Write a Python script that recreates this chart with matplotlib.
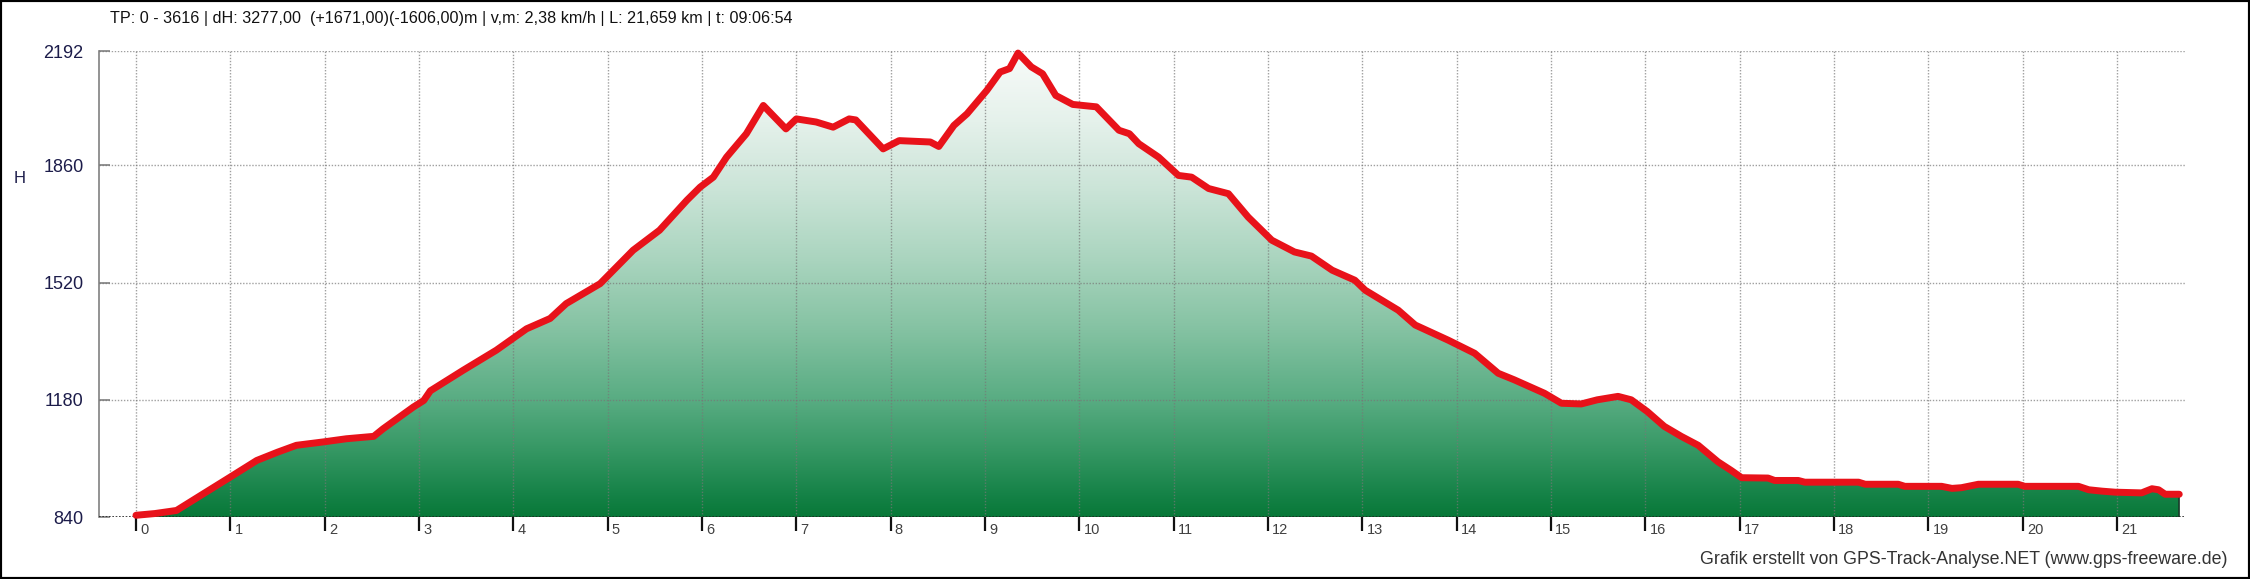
import numpy as np
import matplotlib
matplotlib.use("Agg")
import matplotlib.pyplot as plt
from matplotlib.colors import LinearSegmentedColormap
from matplotlib.patches import Rectangle

# elevation profile (km, m)
dist_km = [0.00, 0.20, 0.43, 0.70, 1.00, 1.28, 1.50, 1.70, 1.99, 2.23, 2.52, 2.62,
           2.94, 3.05, 3.12, 3.47, 3.82, 4.14, 4.39, 4.56, 4.92, 5.27, 5.55, 5.84,
           5.98, 6.12, 6.26, 6.47, 6.65, 6.89, 7.00, 7.21, 7.39, 7.56, 7.63, 7.92,
           8.09, 8.42, 8.51, 8.67, 8.81, 9.02, 9.16, 9.26, 9.35, 9.49, 9.61, 9.75,
           9.93, 10.18, 10.42, 10.53, 10.63, 10.84, 11.05, 11.19, 11.37, 11.58, 11.79,
           12.04, 12.28, 12.46, 12.68, 12.92, 13.03, 13.38, 13.56, 13.91, 14.19, 14.44,
           14.61, 14.93, 15.11, 15.32, 15.49, 15.71, 15.85, 16.02, 16.20, 16.38, 16.56,
           16.77, 16.91, 17.02, 17.30, 17.37, 17.62, 17.69, 18.26, 18.33, 18.68, 18.75,
           19.14, 19.25, 19.35, 19.53, 19.95, 20.02, 20.59, 20.70, 20.84, 20.98, 21.26,
           21.37, 21.44, 21.51, 21.659]
elev_m = [845, 850, 859, 905, 956, 1004, 1028, 1048, 1058, 1067, 1074, 1096,
          1159, 1178, 1206, 1266, 1324, 1386, 1416, 1459, 1517, 1614, 1672, 1759,
          1797, 1826, 1884, 1952, 2034, 1966, 1995, 1986, 1971, 1995, 1992, 1908,
          1932, 1928, 1915, 1976, 2010, 2078, 2131, 2141, 2186, 2146, 2126, 2063,
          2037, 2030, 1962, 1952, 1923, 1884, 1831, 1826, 1793, 1778, 1710,
          1643, 1609, 1597, 1556, 1527, 1498, 1440, 1397, 1353, 1315, 1257,
          1238, 1199, 1170, 1168, 1180, 1190, 1180, 1146, 1103, 1074, 1048,
          1000, 975, 954, 953, 946, 946, 941, 941, 935, 935, 929,
          929, 923, 925, 935, 935, 929, 929, 919, 915, 912, 910,
          922, 919, 906, 906]

y_ticks = [840, 1180, 1520, 1860, 2192]
x_ticks = list(range(0, 22))
y_label = "H"
title_text = ("TP: 0 - 3616 | dH: 3277,00  (+1671,00)(-1606,00)m | v,m: 2,38 km/h | "
              "L: 21,659 km | t: 09:06:54")
credit_text = "Grafik erstellt von GPS-Track-Analyse.NET (www.gps-freeware.de)"

W, H = 2250, 579
plt.rcParams['font.family'] = ['Liberation Sans', 'DejaVu Sans']

fig = plt.figure(figsize=(W / 100, H / 100), dpi=100, facecolor='white')
# axes placed in pixel terms: spine at x=99, top grid y=51, bottom y=517
ax = fig.add_axes([99 / W, 62 / H, 2086 / W, 466 / H])
x0, x1 = -0.392, 21.72
y0, y1 = 840, 2192
ax.set_xlim(x0, x1)
ax.set_ylim(y0, y1)

# gradient fill under the curve
green = LinearSegmentedColormap.from_list('elev', [
    (0.00, '#087838'), (0.05, '#168348'), (0.15, '#389966'), (0.25, '#58ac82'),
    (0.40, '#84c2a2'), (0.55, '#a9d4be'), (0.70, '#cae4d7'), (0.85, '#e5f1eb'),
    (1.00, '#f8fbf9')])
grad = np.linspace(0, 1, 256).reshape(-1, 1)
img = ax.imshow(grad, cmap=green, origin='lower', aspect='auto',
                extent=(x0, x1, y0, y1), zorder=1)
poly = ax.fill_between(dist_km, elev_m, y0, color='none', lw=0)
img.set_clip_path(poly.get_paths()[0], transform=ax.transData)
ax.plot([dist_km[-1], dist_km[-1]], [y0, elev_m[-1]], color='#1a3a2a', lw=1.2, zorder=2)

# dotted grid on top of the fill
for k in x_ticks:
    ax.axvline(k, color='#777777', lw=1.0, ls=(0, (1, 1.2)), alpha=0.7, zorder=3)
for v in y_ticks[1:]:
    ax.axhline(v, color='#777777', lw=1.0, ls=(0, (1, 1.2)), alpha=0.7, zorder=3)
ax.axhline(y0, color='#222222', lw=1.2, ls=(0, (1, 1)), zorder=3)

ax.plot(dist_km, elev_m, color='#e8121a', lw=5.0, solid_joinstyle='round',
        solid_capstyle='round', zorder=5, clip_on=False)

for s in ['top', 'right', 'bottom']:
    ax.spines[s].set_visible(False)
ax.spines['left'].set_color('#808080')
ax.spines['left'].set_linewidth(1.2)

ax.set_yticks(y_ticks)
ax.set_yticklabels([str(v) for v in y_ticks])
ax.tick_params(axis='y', direction='in', length=8, width=1.2, color='#808080',
               pad=11, labelsize=13, labelcolor='#1c1c4a')
ax.set_xticks(x_ticks)
ax.set_xticklabels([])
ax.tick_params(axis='x', direction='out', length=10, width=1.6, color='#111111')
for k in x_ticks:
    ax.annotate(str(k), xy=(k, y0), xytext=(3, -4), textcoords='offset points',
                ha='left', va='top', fontsize=10.5, color='#404040',
                annotation_clip=False)

fig.text(14 / W, 1 - 178 / H, y_label, fontsize=12, color='#1c1c4a',
         ha='left', va='center')
fig.text(110 / W, 1 - 19 / H, title_text, fontsize=11.6, color='#111111',
         ha='left', va='center')
fig.text(2227 / W, 1 - 560 / H, credit_text, fontsize=12.8, color='#333333',
         ha='right', va='center')

fig.patches.append(Rectangle((0, 0), 1, 1, transform=fig.transFigure, fill=False,
                             edgecolor='black', lw=3, zorder=10))

fig.savefig('out.png', dpi=100, facecolor='white')
